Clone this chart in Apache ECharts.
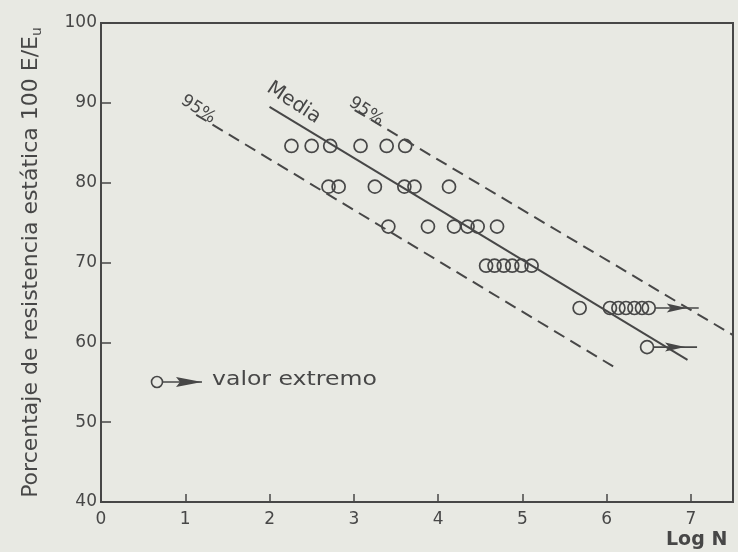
<!DOCTYPE html>
<html>
<head>
<meta charset="utf-8">
<script src="https://cdn.jsdelivr.net/npm/echarts@6/dist/echarts.min.js"></script>
<style>
html,body{margin:0;padding:0;background:#e8e9e3;}
#c{width:738px;height:552px;}
</style>
</head>
<body>
<div id="c"></div>
<script>
// ---- data ----
const xTicks = [0, 1, 2, 3, 4, 5, 6, 7];
const yTicks = [40, 50, 60, 70, 80, 90, 100];
// test points (log N, % of static strength)
const pointsX = [2.26, 2.50, 2.72, 3.08, 3.39, 3.61,
                 2.70, 2.82, 3.25, 3.60, 3.72, 4.13,
                 3.41, 3.88, 4.19, 4.35, 4.47, 4.70,
                 4.57, 4.67, 4.78, 4.88, 4.99, 5.11,
                 5.68, 6.04, 6.14, 6.23, 6.33, 6.42];
const pointsY = [84.6, 84.6, 84.6, 84.6, 84.6, 84.6,
                 79.5, 79.5, 79.5, 79.5, 79.5, 79.5,
                 74.5, 74.5, 74.5, 74.5, 74.5, 74.5,
                 69.6, 69.6, 69.6, 69.6, 69.6, 69.6,
                 64.3, 64.3, 64.3, 64.3, 64.3, 64.3];
// run-out (extreme) points
const extremeX = [6.50, 6.48];
const extremeY = [64.3, 59.4];
// regression lines
const mediaX = [2.00, 6.96];
const mediaY = [89.5, 57.8];
const upperX = [3.01, 7.50];
const upperY = [89.1, 60.9];
const lowerX = [1.13, 6.09];
const lowerY = [88.5, 56.9];

const INK = '#474747';
const FONT = 'DejaVu Sans';

const chart = echarts.init(document.getElementById('c'));
const pairs = (xs, ys) => xs.map((x, i) => [x, ys[i]]);

function arrowShapes(cx, cy, col) {
  return [
    {type: 'line', shape: {x1: cx + 6.5, y1: cy, x2: cx + 50, y2: cy},
     style: {stroke: col, lineWidth: 1.6}},
    {type: 'polygon', shape: {points: [[cx + 18, cy - 4.5], [cx + 38, cy], [cx + 18, cy + 4.5], [cx + 22, cy]]},
     style: {fill: col}}
  ];
}

const option = {
  backgroundColor: '#e8e9e3',
  animation: false,
  grid: {left: 101, right: 5, top: 23, bottom: 50, show: true,
         borderColor: INK, borderWidth: 2, backgroundColor: 'transparent'},
  xAxis: {
    type: 'value', min: 0, max: 7.5, interval: 1,
    axisLine: {show: true, lineStyle: {color: INK, width: 2}},
    axisTick: {show: true, inside: true, length: 8, lineStyle: {color: INK, width: 1.5}},
    axisLabel: {color: INK, fontFamily: FONT, fontSize: 17, margin: 9, showMaxLabel: false,
                formatter: v => xTicks.includes(v) ? String(v) : ''},
    splitLine: {show: false}
  },
  yAxis: {
    type: 'value', min: 40, max: 100, interval: 10,
    axisLine: {show: true, lineStyle: {color: INK, width: 2}},
    axisTick: {show: true, inside: true, length: 10, lineStyle: {color: INK, width: 1.5}},
    axisLabel: {color: INK, fontFamily: FONT, fontSize: 17, margin: 4,
                formatter: v => yTicks.includes(v) ? String(v) : ''},
    splitLine: {show: false},
    name: '{n|Porcentaje de resistencia estática 100 E/E}{s|u}',
    nameLocation: 'middle', nameRotate: 90, nameGap: 57,
    nameTextStyle: {
      rich: {
        n: {color: INK, fontFamily: FONT, fontSize: 22},
        s: {color: INK, fontFamily: FONT, fontSize: 14, padding: [12, 0, 0, 0]}
      }
    }
  },
  series: [
    {type: 'line', data: pairs(mediaX, mediaY), symbol: 'none',
     lineStyle: {color: INK, width: 2}},
    {type: 'line', data: pairs(upperX, upperY), symbol: 'none',
     lineStyle: {color: INK, width: 2, type: [12, 7]}},
    {type: 'line', data: pairs(lowerX, lowerY), symbol: 'none',
     lineStyle: {color: INK, width: 2, type: [12, 7]}},
    {type: 'scatter', data: pairs(pointsX, pointsY), symbol: 'circle', symbolSize: 13,
     itemStyle: {color: 'rgba(0,0,0,0)', borderColor: INK, borderWidth: 1.7, opacity: 1}},
    {type: 'custom', data: pairs(extremeX, extremeY),
     renderItem: function (params, api) {
       const p = api.coord([api.value(0), api.value(1)]);
       return {type: 'group', children: [
         {type: 'circle', shape: {cx: p[0], cy: p[1], r: 6.5},
          style: {fill: 'transparent', stroke: INK, lineWidth: 1.7}}
       ].concat(arrowShapes(p[0], p[1], INK))};
     }}
  ],
  graphic: [
    {type: 'text', x: 187, y: 92, rotation: -0.58, style: {text: '95%', fill: INK, font: '17px "DejaVu Sans"'}},
    {type: 'text', x: 274, y: 78, rotation: -0.58, style: {text: 'Media', fill: INK, font: '20px "DejaVu Sans"'}},
    {type: 'text', x: 355, y: 94, rotation: -0.58, style: {text: '95%', fill: INK, font: '17px "DejaVu Sans"'}},
    {type: 'group', children: [
      {type: 'circle', shape: {cx: 157, cy: 382, r: 5.5}, style: {fill: 'transparent', stroke: INK, lineWidth: 1.6}},
      {type: 'line', shape: {x1: 163, y1: 382, x2: 202, y2: 382}, style: {stroke: INK, lineWidth: 1.6}},
      {type: 'polygon', shape: {points: [[176, 377], [202, 382], [176, 387], [180, 382]]}, style: {fill: INK}}
    ]},
    {type: 'text', x: 212, y: 371, scaleX: 1.24, style: {text: 'valor extremo', fill: INK, font: '19px "DejaVu Sans"'}},
    {type: 'text', x: 666, y: 531, style: {text: 'Log N', fill: INK, font: 'bold 19px "DejaVu Sans"'}}
  ]
};
chart.setOption(option);
</script>
</body>
</html>
